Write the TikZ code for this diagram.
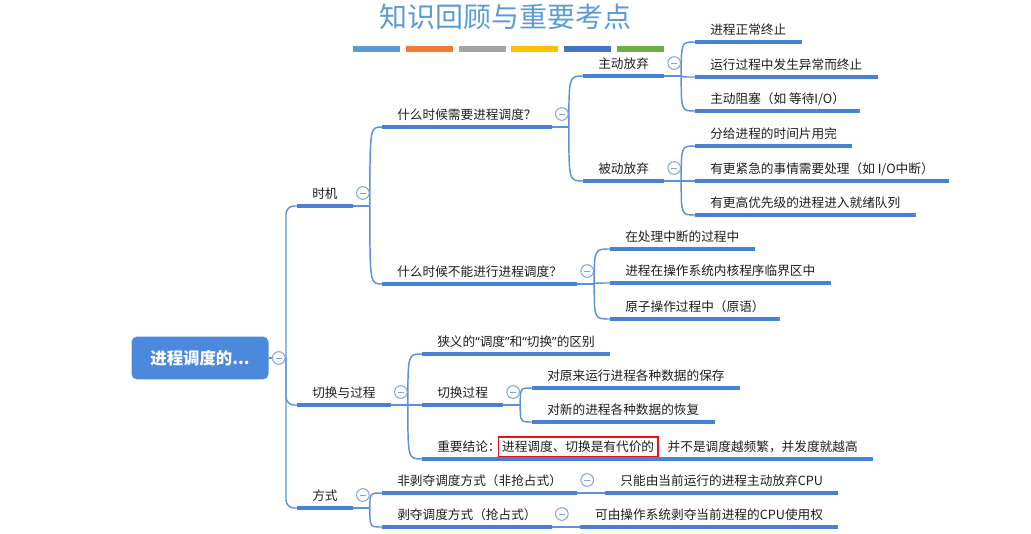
\documentclass[tikz,border=0pt]{standalone}
\usepackage{fontspec}
\newfontfamily\cjk{Noto Sans CJK SC}
\newfontfamily\qfont{Noto Sans}
\usetikzlibrary{calc, positioning}

\definecolor{lineblue}{RGB}{92,146,221}
\definecolor{barblue}{RGB}{70,131,214}
\definecolor{foldblue}{RGB}{125,163,216}
\definecolor{rootblue}{RGB}{74,137,220}
\definecolor{txt}{RGB}{30,30,30}
\definecolor{titleblue}{RGB}{91,155,213}
\definecolor{bar1}{RGB}{91,155,213}
\definecolor{bar2}{RGB}{237,125,49}
\definecolor{bar3}{RGB}{165,165,165}
\definecolor{bar4}{RGB}{255,192,0}
\definecolor{bar5}{RGB}{68,114,196}
\definecolor{bar6}{RGB}{112,173,71}
\definecolor{costred}{RGB}{228,18,18}

\tikzset{
  topic/.style={anchor=south west, font=\cjk\fontsize{9.5}{11}\selectfont, text=txt,
    inner xsep=11.25pt, inner ysep=3.5pt, text height=7.6pt, text depth=1.9pt},
  rootbox/.style={rounded corners=4pt, fill=rootblue, text=white, minimum width=102.75pt,
    minimum height=32pt, font=\cjk\bfseries\fontsize{12.3}{14}\selectfont},
  titletext/.style={font=\cjk\fontsize{21}{24}\selectfont, text=titleblue},
  conn/.style={draw=lineblue, line width=1.1pt},
  uline/.style={draw=barblue, line width=3pt},
  bar/.style={line width=4pt},
  fold/.style={circle, draw=foldblue, fill=white, line width=0.75pt, minimum size=9.5pt,
    inner sep=0pt, path picture={
      \draw[foldblue, line width=0.75pt]
        ([xshift=-2.2pt]path picture bounding box.center) --
        ([xshift=2.2pt]path picture bounding box.center);}},
}

\begin{document}
\begin{tikzpicture}[x=0.75pt, y=-0.75pt]
\useasboundingbox (0,0) rectangle (1031,533);

% title and colour bars
\node[titletext] (title) at (505,17) {知识回顾与重要考点};
\foreach \i/\c in {0/bar1,1/bar2,2/bar3,3/bar4,4/bar5,5/bar6} {
  \draw[bar, \c] (353+52.8*\i,49) -- ++(47,0);
}

% root
\node[rootbox] (root) at (200,358) {进程调度的...};

% level 1
\node[topic] (t1) at (297,206) {时机};
\node[topic] (t2) at (297,405) {切换与过程};
\node[topic] (t3) at (297,508) {方式};

% when
\node[topic] (a1) at (382,127) {什么时候需要进程调度？};
\node[topic] (a2) at (382,284) {什么时候不能进行进程调度？};
\node[topic] (b1) at (583,76) {主动放弃};
\node[topic] (b2) at (583,181) {被动放弃};
\node[topic] (c1) at (695,42) {进程正常终止};
\node[topic] (c2) at (695,77) {运行过程中发生异常而终止};
\node[topic] (c3) at (695,111) {主动阻塞（如 等待I/O）};
\node[topic] (c4) at (695,146) {分给进程的时间片用完};
\node[topic] (c5) at (695,181) {有更紧急的事情需要处理（如 I/O中断）};
\node[topic] (c6) at (695,215) {有更高优先级的进程进入就绪队列};
\node[topic] (d1) at (610,249) {在处理中断的过程中};
\node[topic] (d2) at (610,283) {进程在操作系统内核程序临界区中};
\node[topic] (d3) at (610,319) {原子操作过程中（原语）};

% switching
\node[topic] (e1) at (422,354) {狭义的{\qfont “}调度{\qfont ”}和{\qfont “}切换{\qfont ”}的区别};
\node[topic] (e2) at (422,405) {切换过程};
\node[topic] (e3) at (422,459) {重要结论：\kern-2.25pt{\setlength\fboxrule{1.1pt}\setlength\fboxsep{2.3pt}\fcolorbox{costred}{white}{进程调度、切换是有代价的}}\kern6.75pt并不是调度越频繁，并发度就越高};
\node[topic] (f1) at (532,388) {对原来运行进程各种数据的保存};
\node[topic] (f2) at (532,422) {对新的进程各种数据的恢复};

% modes
\node[topic] (g1) at (382,493) {非剥夺调度方式（非抢占式）};
\node[topic] (g2) at (382,527) {剥夺调度方式（抢占式）};
\node[topic] (h1) at ($(g1.south east)+(28,0)$) {只能由当前运行的进程主动放弃CPU};
\node[topic] (h2) at ($(g2.south east)+(28,0)$) {可由操作系统剥夺当前进程的CPU使用权};

% junctions
\coordinate (j-root) at (286,358);
\foreach \n in {t1,t2,t3,a1,a2,b1,b2,e2} {
  \coordinate (j-\n) at ($(\n.south east)+(17,0)$);
  \draw[conn] (\n.south east) -- (j-\n);
}
\draw[conn] (root.east) -- (j-root);
\foreach \c in {t1,t2,t3} {
  \draw[conn, rounded corners=6pt] (j-root) |- (\c.south west);
}
\foreach \p/\c in {t1/a1,t1/a2,a1/b1,a1/b2,b1/c1,b1/c2,b1/c3,b2/c4,b2/c5,b2/c6,
                   a2/d1,a2/d2,a2/d3,t2/e1,t2/e2,t2/e3,e2/f1,e2/f2,t3/g1,t3/g2} {
  \draw[conn] (j-\p) .. controls (j-\p |- \c.south west) .. (\c.south west);
}
\draw[conn] (g1.south east) -- (h1.south west);
\draw[conn] (g2.south east) -- (h2.south west);

% underlines
\foreach \n in {t1,t2,t3,a1,a2,b1,b2,c1,c2,c3,c4,c5,c6,d1,d2,d3,e1,e2,e3,f1,f2,g1,g2,h1,h2} {
  \draw[uline] (\n.south west) -- (\n.south east);
}

% fold marks
\node[fold] (fold-root) at ($(root.east)+(10,0)$) {};
\foreach \n in {t1,t2,t3,a1,a2,b1,b2,e2,g1,g2} {
  \node[fold] (fold-\n) at ($(\n.south east)+(10,-13)$) {};
}

\end{tikzpicture}
\end{document}
